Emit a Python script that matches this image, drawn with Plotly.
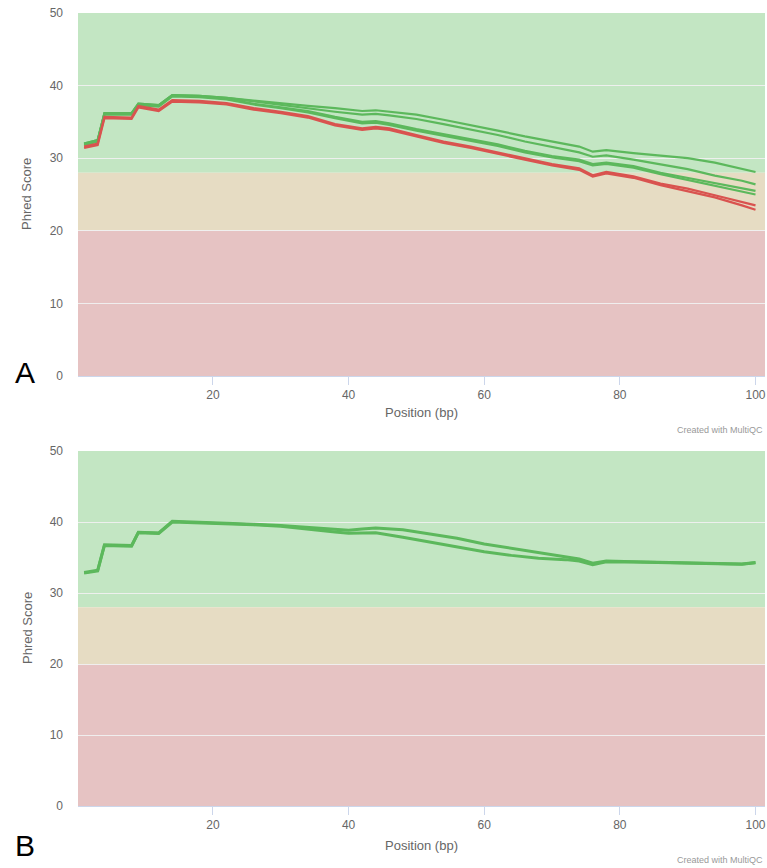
import plotly.graph_objects as go

# ---- Panel A: per-sample mean quality along the read ----
POS_A = [1, 3, 4, 8, 9, 12, 14, 18, 22, 26, 30, 34, 38, 42, 44, 46, 50, 54, 58,
         62, 66, 70, 74, 76, 78, 82, 86, 90, 94, 98, 100]

A_PASS_1 = [32.0, 32.5, 36.2, 36.2, 37.5, 37.3, 38.7, 38.6, 38.3, 37.9, 37.5, 37.2,
            36.9, 36.5, 36.6, 36.4, 36.0, 35.3, 34.6, 33.8, 33.0, 32.3, 31.6, 30.9,
            31.1, 30.7, 30.3, 30.0, 29.4, 28.6, 28.1]
A_PASS_2 = [32.0, 32.5, 36.2, 36.2, 37.5, 37.3, 38.7, 38.6, 38.3, 37.8, 37.3, 36.9,
            36.4, 36.0, 36.1, 35.9, 35.4, 34.7, 34.0, 33.2, 32.3, 31.5, 30.8, 30.2,
            30.4, 29.8, 29.1, 28.5, 27.6, 26.9, 26.4]
A_PASS_3 = [31.9, 32.4, 36.1, 36.1, 37.4, 37.2, 38.6, 38.5, 38.2, 37.5, 37.0, 36.5,
            35.7, 35.0, 35.1, 34.8, 34.0, 33.3, 32.7, 31.9, 31.0, 30.3, 29.8, 29.2,
            29.4, 28.9, 28.0, 27.3, 26.6, 25.9, 25.5]
A_FAIL_1 = [31.6, 32.0, 35.7, 35.6, 37.2, 36.7, 38.0, 37.9, 37.6, 36.9, 36.4, 35.8,
            34.7, 34.1, 34.3, 34.1, 33.2, 32.3, 31.6, 30.8, 29.9, 29.2, 28.6, 27.65,
            28.1, 27.5, 26.5, 25.8, 24.9, 24.0, 23.5]
A_FAIL_2 = [31.4, 31.8, 35.5, 35.4, 37.0, 36.5, 37.8, 37.7, 37.4, 36.7, 36.2, 35.6,
            34.5, 33.9, 34.1, 33.9, 33.0, 32.1, 31.4, 30.6, 29.7, 29.0, 28.4, 27.45,
            27.9, 27.3, 26.3, 25.5, 24.6, 23.5, 22.9]
A_PASS_4 = [31.8, 32.3, 36.0, 36.0, 37.3, 37.1, 38.5, 38.4, 38.1, 37.4, 36.9, 36.3,
            35.5, 34.8, 34.9, 34.6, 33.8, 33.1, 32.5, 31.7, 30.8, 30.1, 29.6, 29.0,
            29.2, 28.7, 27.8, 27.0, 26.2, 25.4, 25.0]

# ---- Panel B ----
POS_B = [1, 3, 4, 8, 9, 12, 14, 18, 22, 26, 30, 34, 38, 40, 42, 44, 48, 52, 56, 60,
         64, 68, 72, 74, 76, 78, 82, 86, 90, 94, 98, 100]

B_PASS_1 = [32.9, 33.2, 36.8, 36.7, 38.55, 38.45, 40.1, 40.0, 39.9, 39.7, 39.5, 39.2,
            39.0, 38.85, 39.0, 39.15, 38.9, 38.35, 37.7, 36.9, 36.3, 35.6, 35.1, 34.8,
            34.2, 34.5, 34.4, 34.35, 34.3, 34.2, 34.1, 34.3]
B_PASS_2 = [32.8, 33.1, 36.7, 36.6, 38.5, 38.4, 40.0, 39.9, 39.8, 39.6, 39.4, 39.05,
            38.6, 38.4, 38.4, 38.5, 37.85, 37.2, 36.5, 35.8, 35.3, 34.9, 34.7, 34.5,
            34.0, 34.4, 34.35, 34.3, 34.25, 34.15, 34.05, 34.25]

GREEN_LINE = "#5cb85c"
RED_LINE = "#d9534f"
BANDS = [(28, 50, "#c3e6c3"), (20, 28, "#e6dcc3"), (0, 20, "#e6c3c3")]

W, H = 767, 868


def px(x):
    return x / W


def py(y):
    return 1 - y / H


fig = go.Figure()

panel_a = [(A_PASS_1, GREEN_LINE), (A_PASS_2, GREEN_LINE), (A_PASS_3, GREEN_LINE),
           (A_PASS_4, GREEN_LINE), (A_FAIL_1, RED_LINE), (A_FAIL_2, RED_LINE)]
for vals, col in panel_a:
    fig.add_trace(go.Scatter(x=POS_A, y=vals, mode="lines", xaxis="x", yaxis="y",
                             line=dict(color=col, width=2.2), showlegend=False))

for vals in (B_PASS_1, B_PASS_2):
    fig.add_trace(go.Scatter(x=POS_B, y=vals, mode="lines", xaxis="x2", yaxis="y2",
                             line=dict(color=GREEN_LINE, width=3), showlegend=False))

shapes = []
for xr, yr in (("x", "y"), ("x2", "y2")):
    for lo, hi, c in BANDS:
        shapes.append(dict(type="rect", xref=f"{xr} domain", yref=yr, x0=0, x1=1,
                           y0=lo, y1=hi, fillcolor=c, line=dict(width=0), layer="below"))

tick_font = dict(family="Liberation Sans, Arial, sans-serif", size=12, color="#666666")
xdom = [px(78), px(765)]
xcommon = dict(range=[0.1, 101.4], tickvals=[20, 40, 60, 80, 100], showgrid=False,
               zeroline=False, ticks="outside", ticklen=8, tickcolor="#ccd6eb",
               showline=True, linecolor="#ccd6eb", tickfont=tick_font, fixedrange=True,
               automargin=False)
ycommon = dict(range=[0, 50], tickvals=[0, 10, 20, 30, 40, 50], showgrid=True,
               gridcolor="rgba(240,240,240,0.95)", gridwidth=1, zeroline=False,
               tickfont=tick_font, ticklabelstandoff=14, fixedrange=True,
               automargin=False)

fig.update_layout(
    width=W, height=H,
    margin=dict(l=0, r=0, t=0, b=0),
    paper_bgcolor="white", plot_bgcolor="white",
    shapes=shapes,
    xaxis=dict(domain=xdom, anchor="y", **xcommon),
    yaxis=dict(domain=[py(376), py(13)], anchor="x", **ycommon),
    xaxis2=dict(domain=xdom, anchor="y2", **xcommon),
    yaxis2=dict(domain=[py(806), py(451)], anchor="x2", **ycommon),
)

title_font = dict(family="Liberation Sans, Arial, sans-serif", size=13, color="#666666")
ann = []
for (ytitle_c, xtitle_y, credit_y, letter, letter_y) in (
        (194, 412, 430, "A", 372), (628, 845, 860, "B", 845)):
    ann.append(dict(text="Phred Score", x=px(27), y=py(ytitle_c), xref="paper", yref="paper",
                    textangle=-90, showarrow=False, font=title_font,
                    xanchor="center", yanchor="middle"))
    ann.append(dict(text="Position (bp)", x=px(421), y=py(xtitle_y), xref="paper", yref="paper",
                    showarrow=False, font=title_font, xanchor="center", yanchor="middle"))
    ann.append(dict(text="Created with MultiQC", x=px(765), y=py(credit_y), xref="paper",
                    yref="paper", showarrow=False, xanchor="right", yanchor="middle",
                    font=dict(family="Liberation Sans, Arial, sans-serif", size=9,
                              color="#999999")))
    ann.append(dict(text=letter, x=px(25), y=py(letter_y), xref="paper", yref="paper",
                    showarrow=False, xanchor="center", yanchor="middle",
                    font=dict(family="Liberation Sans, Arial, sans-serif", size=30,
                              color="#000000")))
fig.update_layout(annotations=ann)

fig.write_html("out.html")
